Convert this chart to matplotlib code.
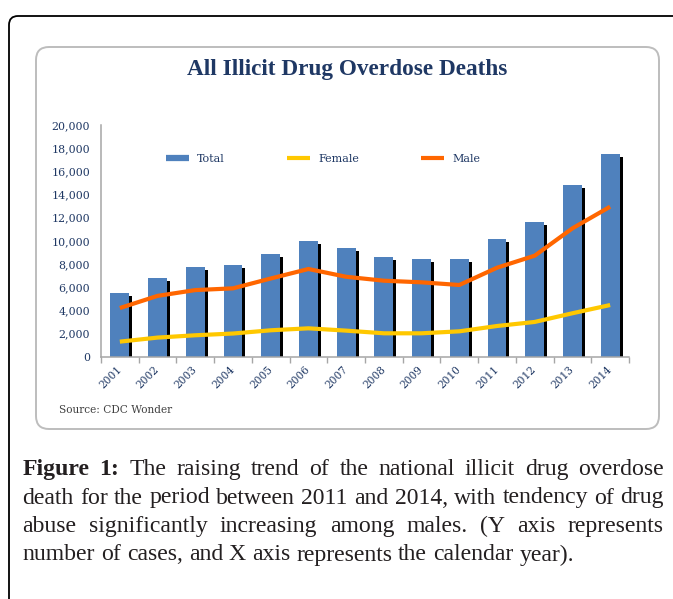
import matplotlib
matplotlib.use("Agg")
import matplotlib.pyplot as plt
import matplotlib.transforms as mtransforms
from matplotlib.patches import FancyBboxPatch
from matplotlib.lines import Line2D
import numpy as np

# ---------------- data ----------------
years = [str(y) for y in range(2001, 2015)]
total = [5500, 6800, 7700, 7900, 8900, 10000, 9400, 8600, 8400, 8400, 10200, 11600, 14800, 17500]
female = [1300, 1650, 1850, 2000, 2280, 2450, 2250, 2020, 2020, 2190, 2650, 3000, 3750, 4460]
male = [4200, 5250, 5750, 5900, 6750, 7570, 6900, 6560, 6420, 6190, 7680, 8720, 11080, 12950]
y_ticks = list(range(0, 20001, 2000))
series_names = ["Total", "Female", "Male"]
title = "All Illicit Drug Overdose Deaths"
source = "Source: CDC Wonder"
caption_lines = [
    [("Figure", True), ("1:", True), ("The", False), ("raising", False), ("trend", False), ("of", False),
     ("the", False), ("national", False), ("illicit", False), ("drug", False), ("overdose", False)],
    [(w, False) for w in "death for the period between 2011 and 2014, with tendency of drug".split()],
    [(w, False) for w in "abuse significantly increasing among males. (Y axis represents".split()],
    [(w, False) for w in "number of cases, and X axis represents the calendar year).".split()],
]

# ---------------- style ----------------
W, H = 673, 599
NAVY = "#1F3864"
BAR = "#4F81BD"
MALE_C = "#FF6600"
FEMALE_C = "#FFC800"
AXIS_C = "#A6A6A6"
SERIF = "DejaVu Serif"
CAP_FONT = "Liberation Serif"

fig = plt.figure(figsize=(W / 100, H / 100), dpi=100)
fig.patch.set_facecolor("white")
ident = mtransforms.IdentityTransform()
renderer = fig.canvas.get_renderer()


def disp_y(y_top):
    return H - y_top


def measure(s, size, family, weight="normal"):
    t = fig.text(0, 0, s, fontsize=size, family=family, weight=weight)
    w = t.get_window_extent(renderer).width
    t.remove()
    return w


# outer (page) frame, cropped at right / bottom
outer = FancyBboxPatch((9, disp_y(700)), 720, 700 - 16,
                       boxstyle="round,pad=0,rounding_size=9",
                       transform=ident, facecolor="white", edgecolor="black", lw=1.3, zorder=-2)
fig.add_artist(outer)

# inner chart frame
inner = FancyBboxPatch((36, disp_y(429)), 659 - 36, 429 - 47,
                       boxstyle="round,pad=0,rounding_size=13",
                       transform=ident, facecolor="white", edgecolor="#BDBDBD", lw=1.4, zorder=-1)
fig.add_artist(inner)

# title
TFONT = "Liberation Serif"
tsize = 14 * 323 / measure(title, 14, TFONT, "bold")
fig.text(347 / W, 1 - 70 / H, title, ha="center", va="center", fontsize=tsize,
         family=TFONT, weight="bold", color=NAVY)

# axes
ax_l, ax_r, ax_t, ax_b = 101, 629, 125, 356.7
ax = fig.add_axes([ax_l / W, 1 - ax_b / H, (ax_r - ax_l) / W, (ax_b - ax_t) / H])
ax.set_facecolor("none")
x = np.arange(len(years))

shadow = mtransforms.ScaledTranslation(3 / 100, -3 / 100, fig.dpi_scale_trans)
ax.bar(x, total, width=0.5, color="black", transform=ax.transData + shadow, zorder=1)
ax.bar(x, total, width=0.5, color=BAR, edgecolor="none", zorder=2)
ax.plot(x, female, color=FEMALE_C, lw=3.0, zorder=3, solid_capstyle="butt")
ax.plot(x, male, color=MALE_C, lw=3.0, zorder=4, solid_capstyle="butt")

ax.set_xlim(-0.5, len(years) - 0.5)
ax.set_ylim(0, 20000)
ax.set_yticks(y_ticks)
ax.set_yticklabels([f"{v:,}" for v in y_ticks], family=SERIF, fontsize=7.9, color=NAVY)
ax.tick_params(axis="y", length=0, pad=8)
ax.set_xticks(x)
ax.set_xticklabels(years, rotation=45, ha="right", va="center", rotation_mode="anchor",
                   family=SERIF, fontsize=7.6, color=NAVY)
ax.tick_params(axis="x", which="major", length=0, pad=8)
ax.set_xticks(np.arange(-0.5, len(years), 1.0), minor=True)
ax.tick_params(axis="x", which="minor", length=4, color=AXIS_C, width=1)
for s in ["top", "right"]:
    ax.spines[s].set_visible(False)
for s in ["left", "bottom"]:
    ax.spines[s].set_color(AXIS_C)
    ax.spines[s].set_linewidth(1.1)

handles = [Line2D([], [], color=BAR, lw=4.5, solid_capstyle="butt"),
           Line2D([], [], color=FEMALE_C, lw=3, solid_capstyle="butt"),
           Line2D([], [], color=MALE_C, lw=3, solid_capstyle="butt")]
leg = ax.legend(handles, series_names, ncol=3, loc="center",
                bbox_to_anchor=((323 - ax_l) / (ax_r - ax_l), (ax_b - 159) / (ax_b - ax_t)),
                frameon=False, handlelength=2.1, handletextpad=0.7, columnspacing=5.6,
                prop={"family": SERIF, "size": 8.0})
for t in leg.get_texts():
    t.set_color(NAVY)

# source
fig.text(59 / W, 1 - 410 / H, source, ha="left", va="center", fontsize=7.6,
         family=SERIF, color="#404040")

# caption (justified)
left, right = 22.5, 664
last = " ".join(w for w, _ in caption_lines[-1])
csize = 13 * (573 - left) / measure(last, 13, CAP_FONT)
space = measure("a b", csize, CAP_FONT) - measure("ab", csize, CAP_FONT)
for i, words in enumerate(caption_lines):
    base = 475 + i * 28.5
    widths = [measure(w, csize, CAP_FONT, "bold" if b else "normal") for w, b in words]
    if i < len(caption_lines) - 1:
        gap = (right - left - sum(widths)) / (len(words) - 1)
    else:
        gap = space
    cx = left
    for (w, b), wd in zip(words, widths):
        fig.text(cx / W, 1 - base / H, w, ha="left", va="baseline", fontsize=csize,
                 family=CAP_FONT, weight="bold" if b else "normal", color="#231F20")
        cx += wd + gap

fig.savefig("out.png", dpi=100, facecolor="white")
